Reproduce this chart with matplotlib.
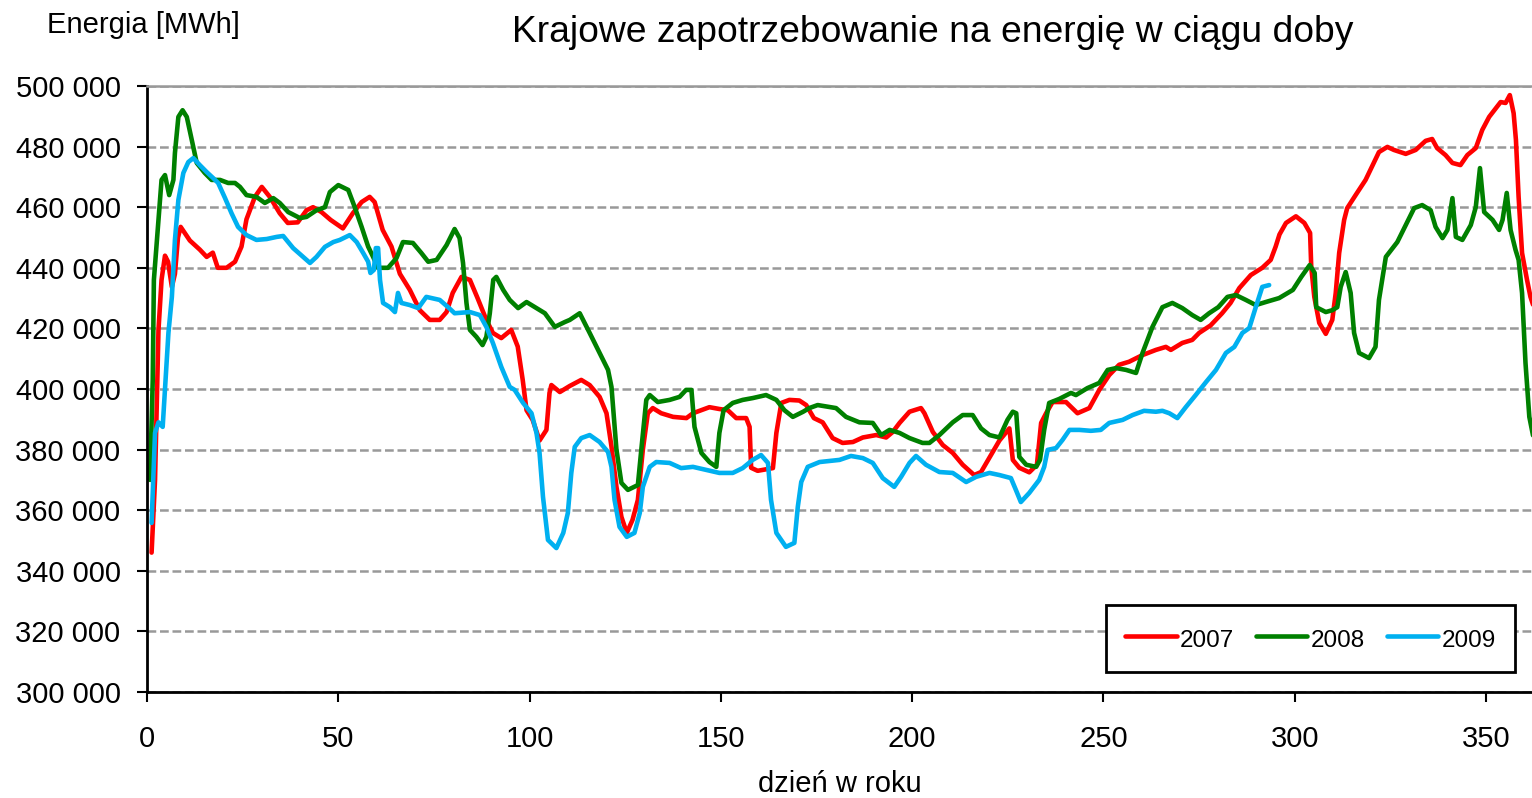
import matplotlib
matplotlib.use("Agg")
import matplotlib.pyplot as plt
from matplotlib.ticker import FuncFormatter, MultipleLocator

plt.rcParams['font.family'] = ['Liberation Sans', 'DejaVu Sans']

# day of year, demand in thousand MWh
days_2007 = [1.2, 2.1, 3.0, 3.8, 4.7, 5.5, 6.5, 7.3, 8.1, 8.8, 11.2, 13.8, 15.6, 17.2, 18.5, 20.8,
             23.0, 24.7, 26.0, 28.2, 30.0, 32.1, 34.7, 36.8, 39.4, 41.7, 43.4, 45.6, 48.0, 51.2,
             53.8, 56.1, 58.2, 59.5, 61.6, 63.9, 66.1, 68.7, 71.3, 73.9, 76.5, 78.3, 79.9, 82.2,
             84.4, 86.4, 88.7, 90.4, 92.6, 95.2, 96.9, 98.2, 99.2, 100.8, 102.6, 104.4, 105.2,
             105.7, 107.9, 110.5, 113.5, 115.7, 118.3, 120.1, 121.4, 122.7, 124.0, 125.4, 126.9,
             128.3, 129.6, 130.9, 132.2, 134.4, 137.5, 141.0, 142.7, 147.0, 149.6, 151.8, 154.0,
             156.6, 157.5, 157.9, 159.6, 163.6, 164.5, 165.8, 167.9, 170.5, 172.3, 174.3, 176.6,
             179.2, 181.8, 184.5, 187.1, 190.6, 193.2, 194.9, 196.7, 199.3, 202.3, 203.2, 205.4,
             208.0, 210.6, 213.2, 216.2, 218.0, 222.8, 225.4, 226.3, 228.0, 230.6, 232.6, 233.7,
             235.0, 236.7, 240.2, 243.2, 246.3, 248.9, 251.5, 254.1, 256.7, 260.2, 263.7, 266.3,
             267.6, 270.6, 273.2, 275.0, 278.0, 281.0, 283.2, 285.5, 288.5, 291.5, 293.7, 295.0,
             296.0, 297.7, 300.3, 302.5, 304.0, 304.3, 305.1, 306.4, 308.1, 309.8, 310.7, 311.6,
             312.9, 313.7, 315.9, 318.5, 322.0, 324.2, 325.9, 329.0, 331.6, 334.2, 335.9, 337.2,
             339.4, 341.2, 343.3, 345.1, 347.3, 349.0, 350.8, 353.8, 355.1, 356.2, 357.2, 357.8,
             358.5, 359.4, 360.7, 361.6, 363.0]
vals_2007 = [346, 370, 419.5, 436, 444, 442, 433.7, 438, 450, 453.5, 449, 446, 443.6, 445, 440, 440,
             442, 447, 456, 463.4, 466.7, 463.4, 458, 454.8, 455, 459, 460, 458.4, 455.8, 453,
             458, 461.7, 463.4, 461.7, 452.5, 447, 438, 432.7, 426, 422.8, 422.8, 425.4, 431.7, 437,
             436, 430, 422.8, 418.5, 416.8, 419.5, 414, 403, 393, 389.8, 383, 386.5, 398.7,
             401.3, 399, 401, 403, 401.3, 397.4, 392, 381, 367.7, 357.8, 352.5, 356.8,
             363.4, 380, 392, 393.7, 392, 390.8, 390.4, 392, 394, 393.4, 393, 390.4,
             390.4, 387.5, 374, 373, 373.9, 385.5, 395.4, 396.4, 396.2, 394.7, 390.4, 389,
             383.8, 382.2, 382.5, 384, 384.8, 384, 385.8, 388.8, 392.5, 393.7, 392, 385.8,
             381.5, 378.9, 375, 371.6, 372.6, 383, 387, 376.6, 374, 372.5, 375, 388.8,
             392, 395.7, 395.7, 392, 393.7, 399.7, 404.6, 408, 409, 411.2, 412.9, 413.9,
             412.9, 415.2, 416.2, 418.5, 421, 425, 428.4, 433.3, 437.6, 440, 442.6, 447,
             451, 454.8, 457, 454.8, 451.5, 440.3, 430.4, 421.8, 418.2, 422.8, 431.7, 444.9,
             455.8, 459.7, 464, 469, 478.2, 479.9, 478.9, 477.6, 478.9, 481.9, 482.5, 479.5,
             477.2, 474.6, 473.9, 477.2, 479.5, 485.5, 489.8, 494.7, 494.4, 497, 491, 482.2,
             463.4, 444.9, 436, 430.4, 425]

days_2008 = [0.8, 1.5, 1.8, 3.0, 3.8, 4.7, 5.8, 6.9, 7.3, 8.2, 9.3, 10.4, 11.7, 13.0, 15.1, 16.9,
             19.1, 21.2, 23.0, 24.3, 26.0, 28.6, 30.8, 33.0, 34.7, 36.9, 40.0, 41.7, 44.3, 46.5,
             47.8, 50.0, 52.6, 54.3, 56.1, 57.8, 59.1, 60.4, 63.0, 65.2, 66.9, 69.5, 71.7, 73.5,
             75.7, 78.3, 80.4, 81.7, 82.6, 83.5, 84.4, 86.1, 87.7, 88.7, 89.6, 90.5, 91.3, 93.1,
             94.8, 97.0, 99.2, 101.8, 104.0, 106.6, 109.2, 110.5, 113.1, 115.7, 118.3, 120.5,
             121.4, 122.7, 124.0, 125.7, 128.3, 129.2, 130.5, 131.4, 133.5, 136.6, 139.2, 140.9,
             142.3, 143.1, 144.9, 147.0, 148.8, 149.6, 150.7, 153.1, 155.7, 158.3, 161.8, 164.5,
             166.6, 168.8, 171.5, 173.1, 175.3, 180.1, 182.7, 186.2, 189.7, 191.9, 194.1, 196.7,
             199.3, 202.7, 204.5, 207.1, 210.6, 213.2, 215.8, 218.0, 220.2, 222.8, 224.9, 226.3,
             227.2, 228.0, 229.8, 232.4, 233.4, 234.5, 235.8, 238.4, 241.5, 242.8, 245.8, 248.9,
             251.1, 253.3, 255.9, 258.5, 260.2, 262.8, 265.4, 268.0, 270.6, 273.2, 275.4, 277.6,
             280.0, 282.4, 284.6, 287.2, 289.8, 292.4, 295.9, 299.5, 301.7, 303.9, 305.2, 305.6,
             308.1, 309.8, 311.1, 312.0, 313.3, 314.6, 315.5, 316.8, 319.4, 321.1, 322.0, 323.8,
             326.8, 328.6, 331.2, 333.3, 335.5, 336.8, 338.6, 339.9, 341.2, 342.1, 343.8, 346.0,
             347.3, 348.4, 349.5, 351.7, 353.4, 354.3, 355.4, 356.4, 357.7, 358.5, 359.4, 360.3,
             361.3, 363.0]
vals_2008 = [370, 403, 436, 455.8, 469, 470.6, 464, 469, 477.9, 489.8, 492, 489.8, 482.2, 474.6, 471.3, 469,
             469, 468, 468, 466.7, 464, 463.4, 461.4, 463, 461.4, 458.4, 456.4, 456.8, 459, 460,
             465, 467.3, 465.7, 460, 453.5, 447, 443.6, 440, 440, 443.2, 448.5, 448.2, 444.9, 442,
             442.6, 447.5, 452.8, 449.8, 441.6, 428.4, 419.5, 417.2, 414.5, 417.2, 425, 436, 437, 432.7,
             429.4, 426.7, 428.7, 426.7, 425, 420.5, 422.1, 422.8, 425, 418.5, 411.9, 406.3,
             400.7, 380, 369, 366.7, 368.3, 380, 396.4, 398, 395.7, 396.4, 397.4, 399.7,
             399.7, 387.5, 378.9, 375.9, 374.3, 385.5, 393, 395.4, 396.4, 397, 398, 396.4,
             393, 390.8, 392.5, 393.7, 394.7, 393.7, 390.8, 389, 388.8, 384.8, 386.5, 385.5,
             383.8, 382.2, 382.2, 384.8, 389, 391.4, 391.4, 387, 384.8, 384, 389.8, 392.5,
             392, 377.6, 375, 374.3, 376.6, 386.5, 395.4, 396.7, 398.7, 398, 400.3, 402,
             406.3, 406.9, 406.3, 405.3, 411.9, 420.5, 427, 428.4, 426.7, 424.4, 422.8, 425,
             427, 430.4, 431, 429.4, 427.7, 428.7, 430, 432.7, 437, 440.9, 438.3, 427,
             425.4, 426, 427, 433.7, 438.6, 431.7, 418.5, 411.9, 410.2, 413.9, 429.4, 443.6,
             448.5, 453.1, 459.7, 460.7, 459, 453.5, 449.8, 452.5, 463, 450.2, 449.2, 454.1,
             460, 472.9, 458.4, 455.8, 452.5, 455.8, 464.7, 452.5, 445.9, 442.6, 431.7, 408.6,
             390.8, 380]

days_2009 = [1.2, 2.1, 3.0, 4.1, 4.7, 5.6, 6.5, 7.3, 8.2, 9.5, 10.8, 12.1, 13.8, 15.6, 17.3, 18.6,
             20.4, 22.1, 23.8, 26.0, 28.6, 31.3, 33.9, 35.6, 38.2, 40.8, 42.6, 44.3, 46.5, 48.7,
             50.4, 53.0, 54.8, 56.5, 57.8, 58.4, 59.3, 59.8, 60.4, 60.9, 61.7, 63.5, 64.8, 65.6,
             66.5, 68.7, 70.9, 73.0, 76.5, 78.7, 80.4, 84.4, 87.0, 88.7, 90.4, 92.6, 94.8, 96.1,
             98.3, 100.5, 101.8, 102.6, 103.5, 104.8, 107.0, 108.8, 110.0, 110.9, 111.8, 113.5,
             115.7, 118.3, 120.5, 121.4, 122.2, 123.5, 125.4, 127.4, 128.8, 129.6, 131.4, 133.1,
             136.6, 139.6, 142.7, 146.2, 149.6, 153.1, 155.7, 158.3, 160.5, 162.3, 163.1, 164.5,
             167.0, 169.2, 170.1, 171.0, 172.7, 175.8, 181.0, 184.0, 187.1, 189.7, 192.3, 195.3,
             197.1, 199.3, 201.0, 203.6, 207.1, 210.6, 214.1, 216.7, 220.2, 222.8, 225.8, 227.1,
             228.4, 230.6, 233.2, 234.5, 235.4, 237.6, 239.3, 241.1, 243.7, 246.7, 249.3, 251.5,
             255.0, 257.6, 260.6, 263.7, 265.4, 267.2, 269.3, 271.5, 274.1, 276.8, 279.4, 282.0,
             284.2, 286.3, 288.1, 289.8, 291.5, 293.3]
vals_2009 = [355.8, 385.5, 389, 387.5, 399.7, 418.5, 430.4, 449.2, 462.4, 471.3, 474.9, 476.2, 473.9, 471.6, 469.6, 468,
             463, 458, 453.5, 450.8, 449.2, 449.5, 450.2, 450.5, 446.5, 443.6, 441.6, 443.6, 446.9, 448.5,
             449.2, 450.8, 448.5, 444.9, 442, 438.3, 439.3, 446.5, 446.5, 436, 428.4, 427, 425.4, 431.7,
             428.4, 427.7, 426.7, 430.4, 429.4, 427, 425, 425.4, 424.4, 420.5, 415.2, 407.3, 400.7, 399.7,
             395.4, 392, 385.5, 378.9, 364.4, 350.2, 347.5, 352.5, 359.1, 372.3, 380.9, 383.8,
             384.8, 382.5, 379.2, 374.3, 363.4, 354.5, 351.2, 352.5, 359.1, 367.7, 374.3, 375.9,
             375.6, 373.9, 374.3, 373.3, 372.3, 372.3, 373.9, 376.6, 378.2, 375.6, 363.4, 352.5,
             347.9, 349.2, 361.1, 369.3, 374.3, 375.9, 376.6, 377.9, 377.2, 375.6, 370.6, 367.7,
             371, 375.6, 377.9, 375, 372.6, 372.3, 369.3, 371, 372.3, 371.6, 370.6, 366.7,
             362.7, 365.7, 370, 374.3, 379.9, 380.5, 383.2, 386.5, 386.5, 386.2, 386.5, 388.8,
             389.8, 391.4, 392.8, 392.5, 392.8, 392, 390.4, 394, 398, 402.3, 406.3, 411.9,
             413.9, 418.5, 420.1, 427, 433.7, 434.3]

series = [('2007', days_2007, vals_2007, '#FF0000'),
          ('2008', days_2008, vals_2008, '#008000'),
          ('2009', days_2009, vals_2009, '#00B0F0')]

fig = plt.figure(figsize=(15.32, 7.98), dpi=100)
ax = fig.add_axes([147 / 1532, 1 - 692 / 798, 1 - 147 / 1532, (692 - 86) / 798])

for label, days, vals, color in series:
    ax.plot(days, [v * 1000 for v in vals], color=color, linewidth=3.3, label=label,
            solid_joinstyle='round', solid_capstyle='round')

ax.set_xlim(0, 362)
ax.set_ylim(300000, 500000)
ax.xaxis.set_major_locator(MultipleLocator(50))
ax.yaxis.set_major_locator(MultipleLocator(20000))
ax.yaxis.set_major_formatter(FuncFormatter(lambda v, p: f"{int(v):,}".replace(',', ' ')))

ax.grid(True, axis='y', color='#999999', linestyle=(0, (3.5, 1.5)), linewidth=1.8)
ax.set_axisbelow(True)
ax.tick_params(axis='both', direction='out', length=7, width=1.5, labelsize=21)
ax.tick_params(axis='y', pad=12)
ax.tick_params(axis='x', pad=17)

ax.spines['right'].set_visible(False)
ax.spines['top'].set_color('#999999')
ax.spines['top'].set_linewidth(1.8)
ax.spines['left'].set_linewidth(2)
ax.spines['bottom'].set_linewidth(2)

ax.set_xlabel('dzień w roku', fontsize=21, labelpad=12)
fig.text(47 / 1532, 1 - 25 / 798, 'Energia [MWh]', fontsize=21, ha='left', va='center')
fig.text(933 / 1532, 1 - 32 / 798, 'Krajowe zapotrzebowanie na energię w ciągu doby',
         fontsize=26.8, ha='center', va='center')

leg = ax.legend(loc='lower right', bbox_to_anchor=(0.988, 0.033), ncol=3, fontsize=17.5,
                frameon=True, fancybox=False, borderaxespad=0, handlelength=2.1,
                handleheight=1.4, handletextpad=0.15, columnspacing=0.9, borderpad=0.8)
leg.get_frame().set_edgecolor('black')
leg.get_frame().set_linewidth(2)
leg.get_frame().set_alpha(1)

fig.savefig('out.png', dpi=100)
